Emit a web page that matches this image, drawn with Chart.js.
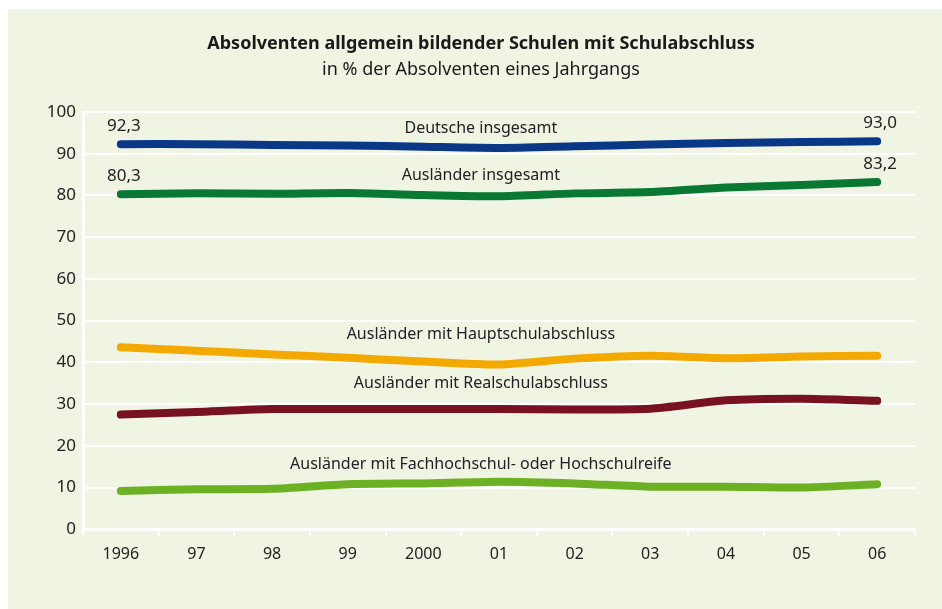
<!DOCTYPE html>
<html>
<head>
<meta charset="utf-8">
<script src="https://cdn.jsdelivr.net/npm/chart.js@4"></script>
<style>
  html, body { margin: 0; padding: 0; background: #fff; overflow: hidden; }
  #box { position: absolute; left: 8px; top: 9px; right: 0; bottom: 0; background: #f0f4e3; }
</style>
</head>
<body>
<div id="box"><canvas id="chart" width="934" height="600"></canvas></div>
<script>
var years = ['1996', '97', '98', '99', '2000', '01', '02', '03', '04', '05', '06'];
var deutsche = [92.3, 92.3, 92.1, 92.0, 91.7, 91.4, 91.8, 92.2, 92.6, 92.8, 93.0];
var auslaender = [80.3, 80.5, 80.4, 80.6, 80.1, 79.8, 80.5, 80.8, 81.9, 82.5, 83.2];
var hauptschul = [43.6, 42.8, 41.9, 41.1, 40.2, 39.5, 40.9, 41.6, 41.0, 41.4, 41.6];
var realschul = [27.5, 28.1, 28.8, 28.8, 28.8, 28.8, 28.7, 28.9, 30.9, 31.3, 30.8];
var hochschul = [9.2, 9.6, 9.7, 10.8, 11.0, 11.4, 11.0, 10.2, 10.2, 10.0, 10.8];
var yTicks = [0, 10, 20, 30, 40, 50, 60, 70, 80, 90, 100];

var font = '"Noto Sans", sans-serif';

// series names written on the chart, plus endpoint value labels
var seriesLabels = {
    id: 'seriesLabels',
    afterDatasetsDraw: function (chart) {
        var c = chart.ctx, xs = chart.scales.x, ys = chart.scales.y;
        c.save();
        c.fillStyle = '#222';
        c.textAlign = 'center';
        c.textBaseline = 'middle';
        c.font = '16px ' + font;
        chart.data.datasets.forEach(function (ds, i) {
            var at = ds.labelAt;
            c.fillText(ds.label, xs.getPixelForValue(at[0]), ys.getPixelForValue(at[1]));
            if (ds.showEnds) {
                c.font = '17px ' + font;
                var meta = chart.getDatasetMeta(i);
                [0, ds.data.length - 1].forEach(function (k) {
                    var p = meta.data[k];
                    c.fillText(ds.data[k].toFixed(1).replace('.', ','), p.x + 3, p.y - 18);
                });
                c.font = '16px ' + font;
            }
        });
        c.fillStyle = '#1a1a1a';
        c.font = 'bold 18px ' + font;
        c.fillText('Absolventen allgemein bildender Schulen mit Schulabschluss', 473, 35);
        c.font = '18px ' + font;
        c.fillText('in % der Absolventen eines Jahrgangs', 473, 61);
        c.restore();
    }
};

function series(label, data, color, labelAt, showEnds) {
    return {
        label: label,
        data: data,
        borderColor: color,
        backgroundColor: color,
        borderWidth: 8,
        borderCapStyle: 'round',
        borderJoinStyle: 'round',
        pointRadius: 0,
        tension: 0.2,
        fill: false,
        labelAt: labelAt,
        showEnds: showEnds
    };
}

new Chart(document.getElementById('chart').getContext('2d'), {
    type: 'line',
    data: {
        labels: years,
        datasets: [
            series('Deutsche insgesamt', deutsche, '#0a3886', [4.76, 96.1], true),
            series('Ausländer insgesamt', auslaender, '#087832', [4.76, 84.7], true),
            series('Ausländer mit Hauptschulabschluss', hauptschul, '#f4a900', [4.76, 46.6], false),
            series('Ausländer mit Realschulabschluss', realschul, '#781221', [4.76, 34.9], false),
            series('Ausländer mit Fachhochschul- oder Hochschulreife', hochschul, '#6cb024', [4.76, 15.6], false)
        ]
    },
    options: {
        responsive: false,
        animation: false,
        layout: { padding: { top: 103, right: 27, left: 0, bottom: 35.5 } },
        plugins: { legend: { display: false }, tooltip: { enabled: false } },
        scales: {
            x: {
                offset: true,
                grid: { offset: true, drawOnChartArea: false, drawTicks: true, tickLength: 7, color: '#fff', lineWidth: 2 },
                border: { color: '#fff', width: 3 },
                ticks: { color: '#222', font: { family: font, size: 16 }, padding: 9 }
            },
            y: {
                min: 0,
                max: 100,
                afterFit: function (s) { s.width = 75; },
                afterBuildTicks: function (s) { s.ticks = yTicks.map(function (v) { return { value: v }; }); },
                grid: { color: '#fff', lineWidth: 2, drawTicks: false },
                border: { color: '#fff', width: 3 },
                ticks: { color: '#222', font: { family: font, size: 17 }, padding: 7 }
            }
        }
    },
    plugins: [seriesLabels]
});
</script>
</body>
</html>
